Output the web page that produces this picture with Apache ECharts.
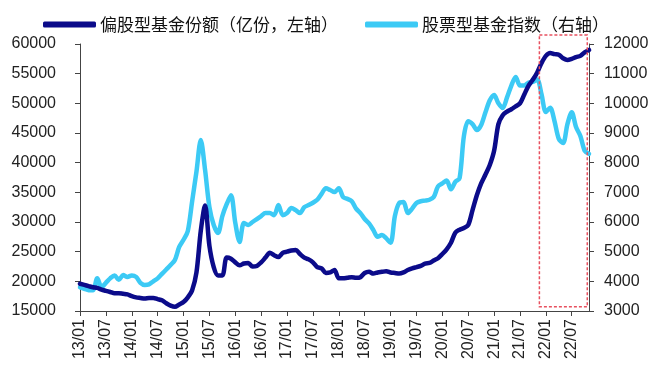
<!DOCTYPE html>
<html>
<head>
<meta charset="utf-8">
<script src="https://cdn.jsdelivr.net/npm/echarts@6/dist/echarts.min.js"></script>
<style>
html,body{margin:0;padding:0;background:#fff;}
#chart{width:660px;height:371px;}
</style>
</head>
<body>
<div id="chart"></div>
<script>
// Monthly categories 2013/01 .. 2022/11
var months = [];
for (var y = 13; y <= 22; y++) {
  for (var m = 1; m <= 12; m++) {
    if (y === 22 && m > 11) break;
    months.push(y + '/' + (m < 10 ? '0' + m : '' + m));
  }
}

// 偏股型基金份额（亿份，左轴）
var fundShares = [
  19600,19400,19200,19000,18900,18600,18400,18200,18000,18000,17900,17800,
  17500,17300,17200,17100,17200,17200,17000,16800,16300,15900,15700,16100,
  16500,17300,18500,21500,28500,32800,26000,22400,21000,21000,24000,23800,
  23200,22700,23000,23100,22500,22600,23200,24000,24800,24400,24100,24800,
  25000,25200,25300,24600,24000,23700,23200,22400,22200,21400,21500,21900,
  20500,20500,20600,20700,20600,20700,21400,21600,21300,21500,21600,21700,
  21500,21400,21300,21500,21900,22200,22400,22600,23000,23100,23500,23900,
  24600,25400,26500,28200,28700,29000,29500,32000,34500,36500,38000,39600,
  42000,46500,48000,48600,49000,49500,50000,51500,53000,54000,55200,56800,
  58000,58500,58300,58200,57600,57300,57500,57800,58000,58600,59000
];

// 股票型基金指数（右轴）
var fundIndex = [
  3800,3750,3700,3700,4100,3800,3950,4100,4200,4050,4210,4150,
  4200,4150,3950,3880,3900,4000,4100,4250,4400,4550,4720,5160,
  5400,5700,6700,7700,8760,7750,6500,5900,5630,6200,6600,6900,
  5970,5330,5970,5900,6000,6100,6200,6300,6300,6230,6570,6230,
  6300,6470,6400,6300,6500,6570,6650,6750,6950,7140,7080,7010,
  7140,6840,6780,6700,6450,6300,6100,5950,5730,5500,5560,5450,
  5300,6200,6640,6670,6300,6450,6640,6700,6720,6750,6840,7200,
  7300,7400,7100,7350,7480,8900,9400,9300,9100,9270,9700,10100,
  10280,10000,9840,10200,10600,10890,10600,10600,10700,10720,10800,10300,
  9710,9850,9400,8800,8660,9300,9700,9200,8900,8400,8300
];

var seriesNames = ['偏股型基金份额（亿份，左轴）', '股票型基金指数（右轴）'];
var leftTicks = [15000, 60000, 5000];
var rightTicks = [3000, 12000, 1000];
// highlighted period: from category index (start..end) and left-axis value span
var boxCats = [106.5, 117.6];
var boxVals = [61500, 15700];

var chart = echarts.init(document.getElementById('chart'), null, {renderer: 'canvas'});
var axisColor = '#444';
function plain(v) { return String(v); }
var labelFont = {color: '#222', fontFamily: 'Liberation Sans', fontSize: 16};

chart.setOption({
  animation: false,
  backgroundColor: '#fff',
  legend: {
    top: 11, left: 38,
    itemWidth: 53, itemHeight: 6, itemGap: 27,
    icon: 'roundRect',
    textStyle: {fontFamily: 'Noto Sans CJK SC', fontSize: 17, color: '#111', padding: [0,0,0,-1]},
    data: seriesNames
  },
  grid: {left: 80, right: 71, top: 44, bottom: 60, containLabel: false},
  xAxis: {
    type: 'category', data: months, boundaryGap: false,
    axisLine: {lineStyle: {color: axisColor, width: 1}},
    axisTick: {show: true, interval: 5, length: 5, inside: false, lineStyle: {color: axisColor}},
    axisLabel: Object.assign({interval: 5, rotate: 90, margin: 8}, labelFont),
    splitLine: {show: false}
  },
  yAxis: [{
    type: 'value', min: leftTicks[0], max: leftTicks[1], interval: leftTicks[2],
    axisLine: {show: true, lineStyle: {color: axisColor}},
    axisTick: {show: true, length: 5, lineStyle: {color: axisColor}},
    axisLabel: Object.assign({margin: 24, formatter: plain}, labelFont),
    splitLine: {show: false}
  }, {
    type: 'value', min: rightTicks[0], max: rightTicks[1], interval: rightTicks[2],
    axisLine: {show: true, lineStyle: {color: axisColor}},
    axisTick: {show: true, length: 5, lineStyle: {color: axisColor}},
    axisLabel: Object.assign({margin: 15, formatter: plain}, labelFont),
    splitLine: {show: false}
  }],
  series: [{
    name: seriesNames[0], type: 'line', yAxisIndex: 0, data: fundShares,
    showSymbol: false, symbol: 'none', smooth: 0.3, z: 3,
    lineStyle: {color: '#0b0b8a', width: 4.5, cap: 'round', join: 'round'},
    itemStyle: {color: '#0b0b8a'}
  }, {
    name: seriesNames[1], type: 'line', yAxisIndex: 1, data: fundIndex,
    showSymbol: false, symbol: 'none', smooth: 0.3, z: 2,
    lineStyle: {color: '#3ccaf5', width: 4.5, cap: 'round', join: 'round'},
    itemStyle: {color: '#3ccaf5'}
  }]
});

function px(catIdx, val) {
  var i0 = Math.floor(catIdx), f = catIdx - i0;
  var a = chart.convertToPixel({xAxisIndex: 0, yAxisIndex: 0}, [i0, val]);
  var b = chart.convertToPixel({xAxisIndex: 0, yAxisIndex: 0}, [Math.min(i0 + 1, months.length - 1), val]);
  return [a[0] + (b[0] - a[0]) * f, a[1]];
}
var p1 = px(boxCats[0], boxVals[0]);
var p2 = px(boxCats[1], boxVals[1]);
chart.setOption({
  graphic: [{
    type: 'rect', z: 10,
    shape: {x: p1[0], y: p1[1], width: p2[0] - p1[0], height: p2[1] - p1[1]},
    style: {fill: 'none', stroke: '#e8505f', lineWidth: 1.5, lineDash: [3, 2]}
  }]
});
</script>
</body>
</html>
